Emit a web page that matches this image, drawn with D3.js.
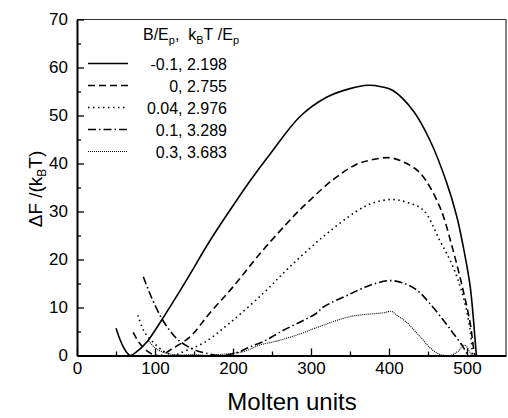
<!DOCTYPE html>
<html>
<head>
<meta charset="utf-8">
<script src="https://cdn.jsdelivr.net/npm/d3@7"></script>
<style>
  body { margin: 0; background: #fff; }
  #chart { width: 508px; height: 418px; }
  text { font-family: Arial, "Liberation Sans", sans-serif; fill: #000; }
</style>
</head>
<body>
<div id="chart"></div>
<script>
// values: [molten units, dF/kBT]
const seriesNames = ['-0.1, 2.198', '0, 2.755', '0.04, 2.976', '0.1, 3.289', '0.3, 3.683'];

const curveM01 = [[50,5.7],[55,3.4],[60,1.6],[65,0.4],[68,0],[75,0.6],[89,2.7],[109,7.5],[140,15.6],[170,23.8],
  [200,31.2],[222,36.4],[250,42.5],[286,49.8],[320,53.8],[350,55.6],[373,56.3],[390,56],[405,55.2],[431,51],
  [452,45],[474,36],[487,28.9],[496,22],[504,14.5],[508,8],[510,4],[512,0]];

const curve0 = [[72,4.8],[80,2.6],[90,0.9],[100,0.1],[108,0],[119,1.1],[145,3.9],[170,8.8],[200,14.3],[235,21.3],
  [277,28.9],[295,31.8],[328,36.6],[358,39.8],[376,40.7],[401,41.2],[420,40.2],[440,38],[465,31],[482,22],
  [495,13.6],[504,6.8],[508,2],[510,0]];

const curve004 = [[78,8.4],[85,5.3],[91,3.9],[100,2.4],[110,1],[120,0.2],[125,0],[132,0.5],[162,2.6],[196,6.8],
  [239,13],[273,18.5],[316,24.8],[358,30],[380,31.8],[405,32.5],[425,31.8],[444,30.3],[465,24],[482,18.5],
  [495,12.3],[504,5.3],[507,0]];

const curve01 = [[85,16.4],[95,12.3],[109,7.6],[120,5],[130,3.2],[149,1.3],[165,0.5],[185,0],[205,0.6],[222,1.8],
  [240,3],[264,5.2],[290,7.3],[307,8.8],[316,10.1],[350,12.8],[375,14.6],[401,15.6],[420,15],[436,13.6],
  [452,10.9],[469,7.5],[482,4.7],[495,1.8],[501,0]];

const curve03 = [[92,3],[100,1.6],[110,0.7],[120,0.3],[135,0.1],[150,0.2],[170,0],[190,0.3],[213,0.8],[235,2.2],
  [256,3],[273,3.8],[286,4.5],[307,5.8],[350,8.1],[393,8.9],[403,9.2],[410,8.4],[422,7],[440,3.9],[456,1.1],
  [466,0.2],[478,0],[488,0.8],[497,2.2],[502,1.2],[506,0]];

const xTicks = [0, 100, 200, 300, 400, 500];
const yTicks = [0, 10, 20, 30, 40, 50, 60, 70];

class Chart{
  constructor(opts){
    this.series = opts.series;
    this.element = opts.element;
    this.draw();
  }

  draw(){
    this.width = 508;
    this.height = 418;
    this.margin = { top: 19.5, bottom: 62.5, left: 77, right: 2 };

    this.element.innerHTML = '';
    this.svg = d3.select(this.element).append('svg')
      .attr('width', this.width)
      .attr('height', this.height);

    this.createScales();
    this.addAxes();
    this.addLines();
    this.addLegend();
    this.addLabels();
  }

  createScales(){
    const m = this.margin;
    this.xScale = d3.scaleLinear()
      .domain([0, 550])
      .range([m.left, this.width - m.right]);
    this.yScale = d3.scaleLinear()
      .domain([0, 70])
      .range([this.height - m.bottom, m.top]);
  }

  addAxes(){
    const m = this.margin;
    const x = this.xScale, y = this.yScale;
    const bottom = this.height - m.bottom;

    // frame: top and right
    this.svg.append('path')
      .attr('d', `M${m.left},${m.top}H${this.width - m.right}V${bottom}`)
      .attr('fill', 'none')
      .attr('stroke', '#333')
      .attr('stroke-width', 1.2);

    const xMinor = d3.range(50, 550, 100);
    const yMinor = d3.range(5, 70, 10);

    this.svg.append('g')
      .attr('transform', `translate(0,${bottom})`)
      .call(d3.axisBottom(x).tickValues(xMinor).tickSize(-4).tickFormat(''))
      .call(g => g.select('.domain').remove());

    this.svg.append('g')
      .attr('transform', `translate(${m.left},0)`)
      .call(d3.axisLeft(y).tickValues(yMinor).tickSize(-4).tickFormat(''))
      .call(g => g.select('.domain').remove());

    const xAxis = this.svg.append('g')
      .attr('transform', `translate(0,${bottom})`)
      .call(d3.axisBottom(x).tickValues(xTicks).tickSizeInner(-7).tickSizeOuter(0).tickPadding(6));

    const yAxis = this.svg.append('g')
      .attr('transform', `translate(${m.left},0)`)
      .call(d3.axisLeft(y).tickValues(yTicks).tickSizeInner(-7).tickSizeOuter(0).tickPadding(9));

    [xAxis, yAxis].forEach(a => {
      a.attr('font-size', 17).attr('font-family', 'Arial, "Liberation Sans", sans-serif');
      a.select('.domain').attr('stroke-width', 2);
    });
    this.svg.selectAll('.tick line').attr('stroke-width', 1.3);
  }

  addLines(){
    const line = d3.line()
      .x(d => this.xScale(d[0]))
      .y(d => this.yScale(d[1]))
      .curve(d3.curveCatmullRom.alpha(0.5));

    this.series.forEach(s => {
      this.svg.append('path')
        .datum(s.values)
        .attr('d', line)
        .attr('fill', 'none')
        .attr('stroke', '#000')
        .attr('stroke-width', s.width)
        .attr('stroke-dasharray', s.dash);
    });
  }

  addLegend(){
    const lg = this.svg.append('g');

    const head = lg.append('text')
      .attr('x', 143)
      .attr('y', 40)
      .attr('font-size', 16);
    head.append('tspan').text('B/E');
    head.append('tspan').attr('font-size', 11).attr('dy', 4).text('p');
    head.append('tspan').attr('dy', -4).text(',\u00a0\u00a0k');
    head.append('tspan').attr('font-size', 11).attr('dy', 4).text('B');
    head.append('tspan').attr('dy', -4).text('T\u00a0/E');
    head.append('tspan').attr('font-size', 11).attr('dy', 4).text('p');

    this.series.forEach((s, i) => {
      const yy = 63.5 + i * 22;
      lg.append('line')
        .attr('x1', 88).attr('x2', 128)
        .attr('y1', yy).attr('y2', yy)
        .attr('stroke', '#000')
        .attr('stroke-width', s.width)
        .attr('stroke-dasharray', s.dash);
      lg.append('text')
        .attr('x', 227)
        .attr('y', yy + 6)
        .attr('text-anchor', 'end')
        .attr('font-size', 16)
        .text(s.name);
    });
  }

  addLabels(){
    this.svg.append('text')
      .attr('x', 292)
      .attr('y', 410)
      .attr('text-anchor', 'middle')
      .attr('font-size', 24)
      .text('Molten units');

    const yl = this.svg.append('text')
      .attr('transform', 'translate(42,189) rotate(-90)')
      .attr('text-anchor', 'middle')
      .attr('font-size', 19);
    yl.append('tspan').text('\u0394F /(k');
    yl.append('tspan').attr('font-size', 12).attr('dy', 4).text('B');
    yl.append('tspan').attr('dy', -4).text('T)');
  }
}

const styles = [
  { width: 1.6, dash: null },
  { width: 1.6, dash: '7,4' },
  { width: 1.6, dash: '1.5,3.5' },
  { width: 1.6, dash: '8,3,1.5,3' },
  { width: 1.1, dash: '1,1' }
];
const curves = [curveM01, curve0, curve004, curve01, curve03];

new Chart({
  element: document.getElementById('chart'),
  series: curves.map((c, i) => ({ name: seriesNames[i], values: c, ...styles[i] }))
});
</script>
</body>
</html>
